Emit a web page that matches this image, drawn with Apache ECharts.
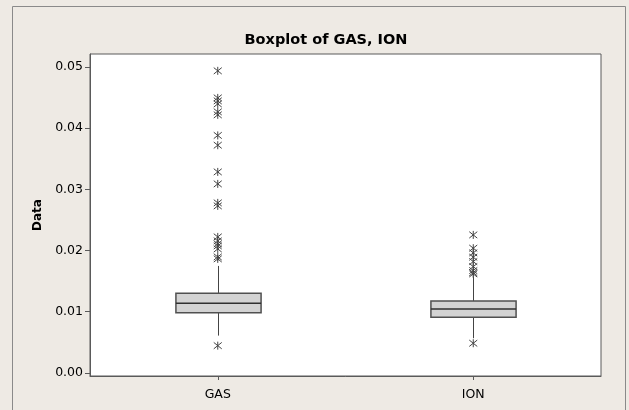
<!DOCTYPE html>
<html>
<head>
<meta charset="utf-8">
<script src="https://cdn.jsdelivr.net/npm/echarts@6/dist/echarts.min.js"></script>
<style>
html,body{margin:0;padding:0;background:#eeeae4;}
#c{width:629px;height:410px;}
</style>
</head>
<body>
<div id="c"></div>
<script>
const titleText = 'Boxplot of GAS, ION';
const yAxisName = 'Data';
const categories = ['GAS', 'ION'];
const yTicks = [0.00, 0.01, 0.02, 0.03, 0.04, 0.05];
const whiskerLow = [0.00610, 0.00567];
const q1 = [0.00985, 0.00910];
const median = [0.01139, 0.01046];
const q3 = [0.01302, 0.01176];
const whiskerHigh = [0.01748, 0.01574];
const gasOutliers = [0.00446, 0.04935, 0.04493, 0.04444, 0.04395, 0.04265, 0.04216,
  0.03880, 0.03720, 0.03284, 0.03088, 0.02778, 0.02729,
  0.02222, 0.02157, 0.02108, 0.02075, 0.02026, 0.01895, 0.01863];
const ionOutliers = [0.00485, 0.02255, 0.02038, 0.01961, 0.01891, 0.01819, 0.01737,
  0.01672, 0.01639, 0.01618];

const FONT = 'DejaVu Sans';
const boxData = categories.map((c, i) => [i, whiskerLow[i], q1[i], median[i], q3[i], whiskerHigh[i]]);
const outlierData = [];
gasOutliers.forEach(v => outlierData.push([categories[0], v]));
ionOutliers.forEach(v => outlierData.push([categories[1], v]));

function renderBox(params, api) {
  const i = api.value(0);
  const pLo = api.coord([i, api.value(1)]);
  const pQ1 = api.coord([i, api.value(2)]);
  const pMed = api.coord([i, api.value(3)]);
  const pQ3 = api.coord([i, api.value(4)]);
  const pHi = api.coord([i, api.value(5)]);
  const bw = api.size([1, 0])[0] / 3;
  const x = Math.round(pQ1[0]) + 0.5;
  const line = {stroke: '#444', lineWidth: 1};
  return {
    type: 'group',
    children: [
      {type: 'line', shape: {x1: x, y1: pQ3[1], x2: x, y2: pHi[1]}, style: line},
      {type: 'line', shape: {x1: x, y1: pQ1[1], x2: x, y2: pLo[1]}, style: line},
      {type: 'rect', shape: {x: x - bw / 2, y: pQ3[1], width: bw, height: pQ1[1] - pQ3[1]},
        style: {fill: '#d3d3d3', stroke: '#505050', lineWidth: 1.5}},
      {type: 'line', shape: {x1: x - bw / 2, y1: pMed[1], x2: x + bw / 2, y2: pMed[1]},
        style: {stroke: '#303030', lineWidth: 1.5}}
    ]
  };
}

const chart = echarts.init(document.getElementById('c'), null, {renderer: 'canvas'});
chart.setOption({
  backgroundColor: '#eeeae4',
  animation: false,
  title: {
    text: titleText, left: 321, top: 28, textAlign: 'center',
    textStyle: {fontFamily: FONT, fontSize: 14.5, fontWeight: 'bold', color: '#000'}
  },
  graphic: [{
    type: 'rect', shape: {x: 12.5, y: 6.5, width: 613, height: 430},
    style: {fill: 'none', stroke: '#8a8a8a', lineWidth: 1}, z: -1, silent: true
  }],
  grid: {left: 90, right: 28, top: 54, bottom: 34, show: true,
    backgroundColor: '#ffffff', borderColor: '#5a5a5a', borderWidth: 1},
  xAxis: {
    type: 'category', data: categories, boundaryGap: true,
    axisLine: {show: true, onZero: false, lineStyle: {color: '#5a5a5a'}},
    axisTick: {show: true, alignWithLabel: true, length: 4, lineStyle: {color: '#5a5a5a'}},
    axisLabel: {fontFamily: FONT, fontSize: 12.5, color: '#000', margin: 12},
    splitLine: {show: false}
  },
  yAxis: {
    type: 'value', min: -0.0005, max: 0.0521,
    name: yAxisName, nameLocation: 'middle', nameGap: 43, nameRotate: 90,
    nameTextStyle: {fontFamily: FONT, fontSize: 12, fontWeight: 'bold', color: '#000'},
    axisLine: {show: true, lineStyle: {color: '#5a5a5a'}},
    axisTick: {show: true, length: 5, customValues: yTicks, lineStyle: {color: '#5a5a5a'}},
    axisLabel: {customValues: yTicks, fontFamily: FONT, fontSize: 12.5, color: '#000', margin: 7,
      formatter: v => v.toFixed(2)},
    splitLine: {show: false}
  },
  series: [
    {type: 'custom', renderItem: renderBox, data: boxData, encode: {x: 0, y: [1, 2, 3, 4, 5]}, z: 2},
    {type: 'scatter', data: outlierData,
      symbol: 'path://M1,1L9,9M9,1L1,9M5,0L5,10', symbolSize: [8, 8],
      itemStyle: {color: 'none', borderColor: '#444', borderWidth: 1, opacity: 1}, z: 3}
  ]
});
</script>
</body>
</html>
